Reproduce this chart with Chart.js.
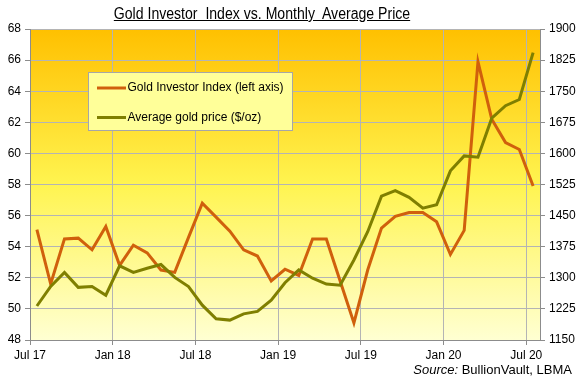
<!DOCTYPE html>
<html><head><meta charset="utf-8">
<script src="https://cdn.jsdelivr.net/npm/chart.js@4"></script>
<style>
html,body{margin:0;padding:0;background:#fff;}
#wrap{position:relative;width:578px;height:381px;overflow:hidden;}
#c{position:absolute;left:0;top:0;}
#title{position:absolute;top:5px;left:0;width:524px;text-align:center;font:16px "Liberation Sans",Arial,sans-serif;text-decoration:underline;color:#000;white-space:pre;transform:scaleX(0.88);transform-origin:262px 0;}
#source{position:absolute;right:6px;top:362px;font:13px "Liberation Sans",Arial,sans-serif;color:#000;}
</style></head>
<body>
<div id="wrap">
<canvas id="c" width="578" height="381"></canvas>
<div id="title">Gold Investor  Index vs. Monthly  Average Price</div>
<div id="source"><i>Source:</i> BullionVault, LBMA</div>
</div>
<script>
const months = ['Jul 17','Aug 17','Sep 17','Oct 17','Nov 17','Dec 17','Jan 18','Feb 18','Mar 18','Apr 18','May 18','Jun 18',
  'Jul 18','Aug 18','Sep 18','Oct 18','Nov 18','Dec 18','Jan 19','Feb 19','Mar 19','Apr 19','May 19','Jun 19',
  'Jul 19','Aug 19','Sep 19','Oct 19','Nov 19','Dec 19','Jan 20','Feb 20','Mar 20','Apr 20','May 20','Jun 20','Jul 20'];
const investorIndex = [55.1,51.6,54.5,54.55,53.8,55.3,52.8,54.1,53.6,52.5,52.35,54.6,
  56.8,55.9,55.0,53.8,53.4,51.8,52.55,52.15,54.5,54.5,51.8,49.1,
  52.5,55.2,55.95,56.2,56.2,55.6,53.5,55.05,65.9,62.2,60.7,60.25,57.9];
const goldPrice = [1232,1279,1313,1277,1279,1258,1329,1313,1323,1332,1301,1279,
  1234,1201,1198,1213,1219,1246,1288,1319,1299,1285,1282,1343,
  1411,1497,1510,1494,1468,1476,1558,1594,1591,1685,1715,1730,1843];
const tickLabels = ['Jul 17','Jan 18','Jul 18','Jan 19','Jul 19','Jan 20','Jul 20'];
const tickMonths = [0,6,12,18,24,30,36];
const seriesNames = ['Gold Investor Index (left axis)','Average gold price ($/oz)'];

Chart.defaults.font.family = '"Liberation Sans", Arial, sans-serif';
Chart.defaults.font.size = 12;
Chart.defaults.color = '#000';

const bgPlugin = {
  id: 'bg',
  beforeDraw(chart) {
    const {ctx, chartArea: a} = chart;
    const g = ctx.createLinearGradient(0, a.top, 0, a.bottom);
    g.addColorStop(0, '#FFC000');
    g.addColorStop(0.5, '#FFF450');
    g.addColorStop(1, '#FFFFD2');
    ctx.save();
    ctx.fillStyle = g;
    ctx.fillRect(a.left, a.top, a.right - a.left, a.bottom - a.top);
    ctx.restore();
  }
};

const legendPlugin = {
  id: 'boxLegend',
  afterDraw(chart) {
    const ctx = chart.ctx;
    const x0 = 88.5, y0 = 72.5, w = 204, h = 58;
    ctx.save();
    ctx.fillStyle = '#FFFF99';
    ctx.fillRect(x0, y0, w, h);
    ctx.strokeStyle = '#A6A6A6';
    ctx.lineWidth = 1;
    ctx.strokeRect(x0, y0, w, h);
    ctx.font = '12px "Liberation Sans", Arial, sans-serif';
    ctx.textBaseline = 'middle';
    chart.data.datasets.forEach((ds, i) => {
      const yy = 88 + i * 29.5;
      ctx.strokeStyle = ds.borderColor;
      ctx.lineWidth = 3;
      ctx.beginPath();
      ctx.moveTo(97, yy);
      ctx.lineTo(126, yy);
      ctx.stroke();
      ctx.fillStyle = '#000';
      ctx.fillText(ds.label, 127.5, yy);
    });
    ctx.restore();
  }
};

const gridCol = '#B4B4B4';
const axisCol = '#8C8C8C';

new Chart(document.getElementById('c'), {
  type: 'line',
  data: {
    datasets: [
      {label: seriesNames[0], data: investorIndex.map((v, i) => ({x: i + 0.5, y: v})),
       borderColor: '#D0600C', borderWidth: 3, pointRadius: 0, yAxisID: 'y', order: 1, fill: false},
      {label: seriesNames[1], data: goldPrice.map((v, i) => ({x: i + 0.5, y: v})),
       borderColor: '#7F7F00', borderWidth: 3, pointRadius: 0, yAxisID: 'y2', order: 0, fill: false}
    ]
  },
  options: {
    responsive: false,
    animation: false,
    layout: {padding: {top: 29, left: 0, right: 0, bottom: 0}},
    plugins: {legend: {display: false}, tooltip: {enabled: false}, title: {display: false}},
    scales: {
      x: {
        type: 'linear', min: 0, max: 37,
        afterBuildTicks: s => { s.ticks = tickMonths.map(v => ({value: v})); },
        afterFit: s => { s.height = 41; },
        ticks: {callback: v => tickLabels[tickMonths.indexOf(v)], maxRotation: 0, autoSkip: false, padding: 3, font: {size: 12}},
        grid: {color: gridCol, tickLength: 5, tickColor: axisCol},
        border: {color: axisCol}
      },
      y: {
        position: 'left', min: 48, max: 68,
        afterFit: s => { s.width = 30; },
        ticks: {stepSize: 2, padding: 4, font: {size: 12}, callback: v => String(v)},
        grid: {color: gridCol, tickLength: 5, tickColor: axisCol},
        border: {color: axisCol}
      },
      y2: {
        position: 'right', min: 1150, max: 1900,
        afterFit: s => { s.width = 38; },
        ticks: {stepSize: 75, padding: 4, font: {size: 12}, callback: v => String(v)},
        grid: {drawOnChartArea: false, tickLength: 5, tickColor: axisCol},
        border: {color: axisCol}
      }
    }
  },
  plugins: [bgPlugin, legendPlugin]
});
</script>
</body></html>
